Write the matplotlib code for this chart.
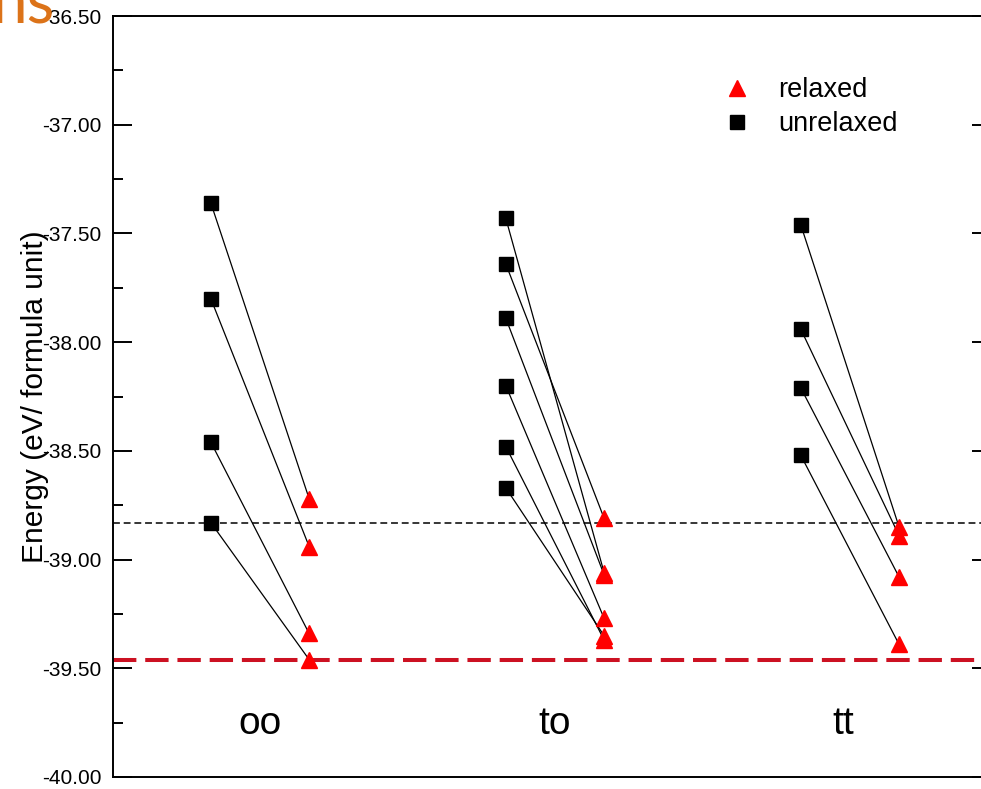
import numpy as np
import matplotlib
matplotlib.use("Agg")
import matplotlib.pyplot as plt
from matplotlib.ticker import FormatStrFormatter, MultipleLocator

# energies (eV / formula unit) before and after relaxation, per ordering
groups = ["oo", "to", "tt"]
oo_unrelaxed = [-37.36, -37.80, -38.46, -38.83]
oo_relaxed = [-38.72, -38.94, -39.34, -39.46]
to_unrelaxed = [-37.43, -37.64, -37.89, -38.20, -38.48, -38.67]
to_relaxed = [-39.06, -38.81, -39.07, -39.27, -39.37, -39.35]
tt_unrelaxed = [-37.46, -37.94, -38.21, -38.52]
tt_relaxed = [-38.85, -38.89, -39.08, -39.39]

unrelaxed = [oo_unrelaxed, to_unrelaxed, tt_unrelaxed]
relaxed = [oo_relaxed, to_relaxed, tt_relaxed]

plt.rcParams["font.family"] = ["Liberation Sans", "DejaVu Sans"]
plt.rcParams["axes.unicode_minus"] = False

fig = plt.figure(figsize=(9.81, 7.89), dpi=100)
ax = fig.add_axes([112.5 / 981, 12 / 789, 878 / 981, 761 / 789])

label_x = [1.5, 4.5, 7.43]
for i in range(len(groups)):
    x0 = 1 + 3 * i
    for u, r in zip(unrelaxed[i], relaxed[i]):
        ax.plot([x0, x0 + 1], [u, r], color="black", lw=0.9, zorder=2)
    sq, = ax.plot([x0] * len(unrelaxed[i]), unrelaxed[i], "s", ms=9.5,
                  color="black", zorder=3)
    tri, = ax.plot([x0 + 1] * len(relaxed[i]), relaxed[i], "^", ms=12,
                   color="#ff0000", zorder=3)
    ax.text(label_x[i], -39.80, groups[i], fontsize=28, ha="center",
            va="baseline")

# lowest oo energies as reference levels
ax.axhline(min(oo_unrelaxed), color="black", lw=1.1, dashes=(4.5, 2.5),
           zorder=1)
ax.axhline(min(oo_relaxed), color="#cc1122", lw=2.9, dashes=(5.8, 2.2),
           zorder=1)

ax.set_xlim(0, 8.93)
ax.set_ylim(-40, -36.5)
ax.set_xticks([])
ax.yaxis.set_major_locator(MultipleLocator(0.5))
ax.yaxis.set_minor_locator(MultipleLocator(0.25))
ax.yaxis.set_major_formatter(FormatStrFormatter("%.2f"))
ax.tick_params(axis="y", which="both", direction="in", right=True,
               width=1.4, pad=8, labelsize=15)
ax.tick_params(axis="y", which="major", length=13.7)
ax.tick_params(axis="y", which="minor", length=7)
for s in ax.spines.values():
    s.set_linewidth(1.4)

ax.set_ylabel("Energy (eV/ formula unit)", fontsize=21.5, va="center")
ax.yaxis.set_label_coords(-0.088, 0.5)

ax.legend([tri, sq], ["relaxed", "unrelaxed"], loc="upper left",
          bbox_to_anchor=(723.6 / 981, 1 - 77 / 789),
          bbox_transform=fig.transFigure, frameon=False, fontsize=19.5,
          handlelength=1.0, handletextpad=1.0, labelspacing=0.3,
          borderpad=0, borderaxespad=0)

fig.text(-8 / 981, 1 - 23 / 789, "ns", color="#dc7319", fontsize=46,
         family=["Lato", "DejaVu Sans"], va="baseline", ha="left")

fig.savefig("out.png", dpi=100)
